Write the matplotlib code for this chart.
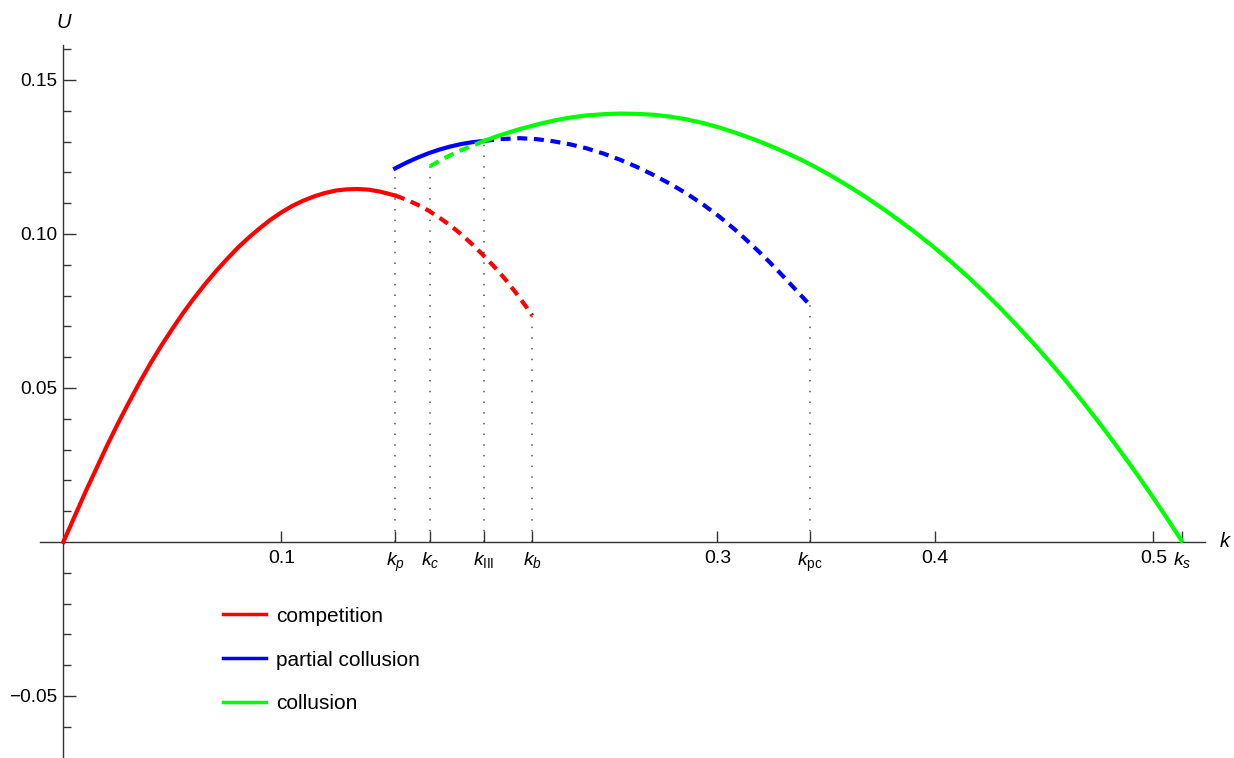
import numpy as np
import matplotlib.pyplot as plt
from matplotlib.ticker import FixedLocator

# Fontes parecidas com as do Mathematica
plt.rcParams['font.family'] = ['Liberation Sans', 'DejaVu Sans']
plt.rcParams['mathtext.fontset'] = 'custom'
plt.rcParams['mathtext.rm'] = 'Liberation Sans'
plt.rcParams['mathtext.it'] = 'Liberation Sans:italic'

# Pontos criticos no eixo k
k_p, k_c, k_III, k_b, k_pc, k_s = 0.1522, 0.1682, 0.1930, 0.2151, 0.3425, 0.5130

# competition (red)
comp_k = [0, 0.005, 0.010, 0.015, 0.020, 0.025, 0.030, 0.035, 0.040, 0.045,
          0.050, 0.055, 0.060, 0.065, 0.070, 0.075, 0.080, 0.085, 0.090, 0.095,
          0.100, 0.105, 0.110, 0.115, 0.120, 0.125, 0.130, 0.135, 0.140, 0.145,
          0.1522]
comp_u = [0, 0.0080, 0.0160, 0.0236, 0.0312, 0.0384, 0.0452, 0.0518, 0.0580, 0.0638,
          0.0692, 0.0744, 0.0792, 0.0837, 0.0879, 0.0918, 0.0955, 0.0988, 0.1018, 0.1046,
          0.1070, 0.1091, 0.1108, 0.1122, 0.1133, 0.1141, 0.1145, 0.1146, 0.1144, 0.1138,
          0.1125]
comp_k_dash = [0.1522, 0.1575, 0.1625, 0.1675, 0.1725, 0.1775, 0.1825, 0.1875,
               0.1925, 0.1975, 0.2025, 0.2075, 0.2125, 0.2151]
comp_u_dash = [0.1125, 0.1111, 0.1095, 0.1076, 0.1053, 0.1028, 0.0999, 0.0967,
               0.0932, 0.0895, 0.0855, 0.0810, 0.0762, 0.0735]

# partial collusion (blue)
part_k = [0.1522, 0.1575, 0.1625, 0.1675, 0.1725, 0.1775, 0.1825, 0.1875, 0.1930]
part_u = [0.1213, 0.1232, 0.1248, 0.1262, 0.1274, 0.1284, 0.1292, 0.1298, 0.1302]
part_k_dash = [0.1930, 0.2000, 0.2095, 0.2170, 0.2248, 0.2325, 0.2401, 0.2478, 0.2554,
               0.2630, 0.2706, 0.2783, 0.2860, 0.2936, 0.3012, 0.3088, 0.3165, 0.3235,
               0.3303, 0.3365, 0.3425]
part_u_dash = [0.1302, 0.1308, 0.1311, 0.1308, 0.1301, 0.1291, 0.1278, 0.1261, 0.1241,
               0.1218, 0.1192, 0.1163, 0.1131, 0.1095, 0.1055, 0.1010, 0.0960, 0.0912,
               0.0862, 0.0815, 0.0769]

# collusion (green)
coll_k_dash = [0.1682, 0.1745, 0.1805, 0.1870, 0.1930]
coll_u_dash = [0.1220, 0.1245, 0.1266, 0.1285, 0.1302]
coll_k = [0.1930, 0.2000, 0.2095, 0.2187, 0.2255, 0.2324, 0.2400, 0.2480, 0.2554,
          0.2630, 0.2710, 0.2783, 0.2860, 0.2936, 0.3012, 0.3090, 0.3165, 0.3240,
          0.3315, 0.3390, 0.3440, 0.3520, 0.3600, 0.3670, 0.3780, 0.3899, 0.3985,
          0.4067, 0.4145, 0.4220, 0.4300, 0.4373, 0.4450, 0.4526, 0.4600, 0.4679,
          0.4755, 0.4832, 0.4910, 0.4985, 0.5060, 0.5130]
coll_u = [0.1302, 0.1320, 0.1341, 0.1358, 0.1369, 0.1378, 0.1385, 0.1389, 0.1391,
          0.1390, 0.1387, 0.1381, 0.1372, 0.1360, 0.1345, 0.1327, 0.1308, 0.1287,
          0.1264, 0.1239, 0.1221, 0.1190, 0.1156, 0.1125, 0.1072, 0.1010, 0.0962,
          0.0913, 0.0864, 0.0814, 0.0758, 0.0704, 0.0645, 0.0584, 0.0522, 0.0453,
          0.0384, 0.0311, 0.0235, 0.0159, 0.0080, 0.0004]

# linhas pontilhadas verticais
drop_k = [k_p, k_c, k_III, k_b, k_pc]
drop_u = [0.1213, 0.1220, 0.1302, 0.0735, 0.0769]

xtick_pos = [0.1, k_p, k_c, k_III, k_b, 0.3, k_pc, 0.4, 0.5, k_s]
xtick_lab = ['0.1', '$k_p$', '$k_c$', r'$k_{\mathrm{III}}$', '$k_b$', '0.3',
             r'$k_{\mathrm{pc}}$', '0.4', '0.5', '$k_s$']
ytick_pos = [-0.05, 0.05, 0.10, 0.15]
ytick_lab = ['\u22120.05', '0.05', '0.10', '0.15']
ytick_minor = [-0.06, -0.04, -0.03, -0.02, -0.01, 0.01, 0.02, 0.03, 0.04,
               0.06, 0.07, 0.08, 0.09, 0.11, 0.12, 0.13, 0.14, 0.16]

RED, BLUE, GREEN = '#ff0000', '#0000ff', '#00ff00'
AX_COL = '#333333'
dash = (0, (2.4, 1.6))

fig = plt.figure(figsize=(12.34, 7.58), dpi=100)
ax = fig.add_axes([0, 0, 1, 1])
ax.set_xlim(-0.02904, 0.5370)
ax.set_ylim(-0.07013, 0.17597)

for k, u in zip(drop_k, drop_u):
    ax.plot([k, k], [0, u], color='#555555', lw=1.1, linestyle=(0, (1, 6)), zorder=1)

ax.plot(comp_k, comp_u, color=RED, lw=3, label='competition', zorder=3,
        solid_joinstyle='round')
ax.plot(comp_k_dash, comp_u_dash, color=RED, lw=3, linestyle=dash, zorder=3)
ax.plot(part_k, part_u, color=BLUE, lw=3, label='partial collusion', zorder=3,
        solid_joinstyle='round')
ax.plot(part_k_dash, part_u_dash, color=BLUE, lw=3, linestyle=dash, zorder=3)
ax.plot(coll_k_dash, coll_u_dash, color=GREEN, lw=3, linestyle=dash, zorder=3)
ax.plot(coll_k, coll_u, color=GREEN, lw=3, label='collusion', zorder=4,
        solid_joinstyle='round')

# eixos cruzando na origem
for s in ['top', 'right']:
    ax.spines[s].set_visible(False)
ax.spines['left'].set_position(('data', 0))
ax.spines['bottom'].set_position(('data', 0))
ax.spines['left'].set_bounds(-0.0698, 0.1612)
ax.spines['bottom'].set_bounds(-0.0107, 0.5235)
for s in ['left', 'bottom']:
    ax.spines[s].set_color(AX_COL)
    ax.spines[s].set_linewidth(1.0)

ax.set_xticks(xtick_pos)
ax.set_xticklabels(xtick_lab)
ax.set_yticks(ytick_pos)
ax.set_yticklabels(ytick_lab)
ax.yaxis.set_minor_locator(FixedLocator(ytick_minor))
ax.tick_params(axis='x', direction='in', length=8, width=1, color=AX_COL,
               labelsize=14, pad=6)
ax.tick_params(axis='y', which='major', direction='in', length=9, width=1,
               color=AX_COL, labelsize=13.7, pad=4.5)
ax.tick_params(axis='y', which='minor', direction='in', length=5.5, width=1,
               color=AX_COL)

ax.text(0, 0.1688, 'U', fontsize=14.5, style='italic', ha='center', va='center')
ax.text(0.5329, 0, 'k', fontsize=14.5, style='italic', ha='center', va='center')

leg = ax.legend(loc='upper left', bbox_to_anchor=(204 / 1234, 1 - 588 / 758),
                bbox_transform=fig.transFigure, frameon=False, fontsize=15,
                handlelength=2.07, handletextpad=0.5, labelspacing=1.19,
                borderpad=0.4)
for line in leg.get_lines():
    line.set_linewidth(2.5)

fig.savefig('out.png', dpi=100)
